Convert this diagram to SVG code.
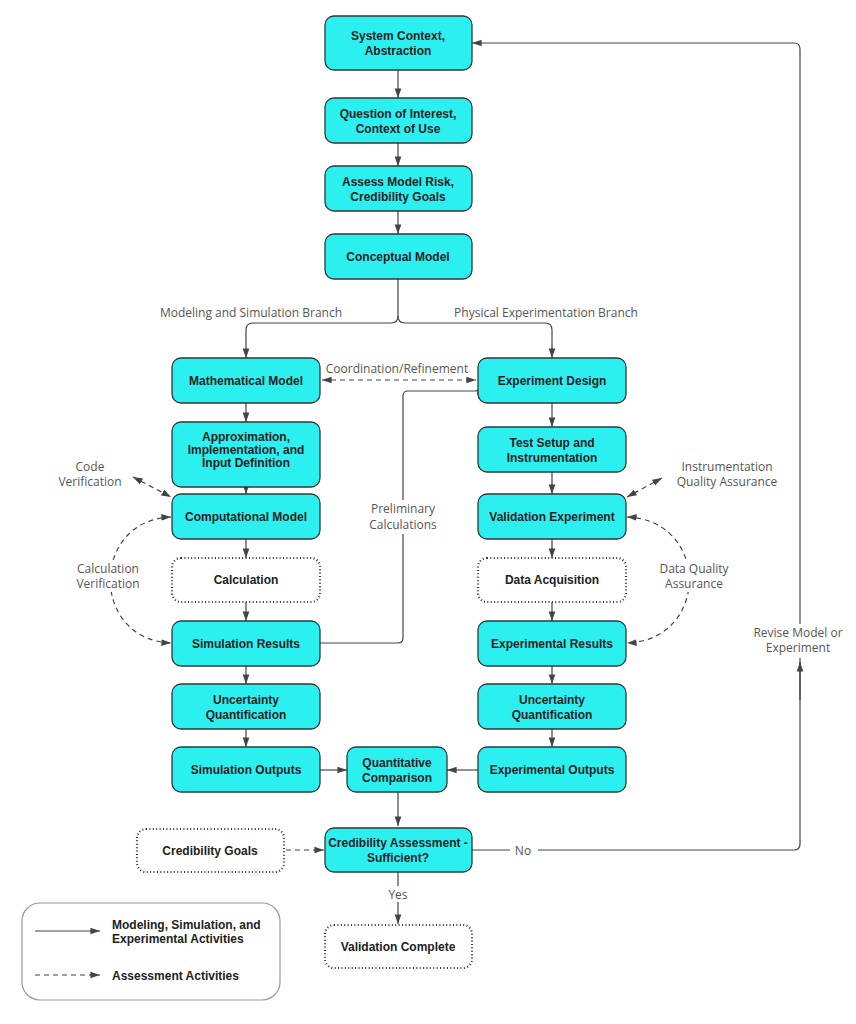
<svg xmlns="http://www.w3.org/2000/svg" width="856" height="1024" viewBox="0 0 856 1024">
<style>
.n{fill:#2cf0f0;stroke:#2a3a3a;stroke-width:1.3}
.d{fill:#fff;stroke:#333;stroke-width:2.2;stroke-dasharray:1 2.4}
.t{font-family:"Liberation Sans",Arial,sans-serif;font-weight:bold;font-size:12px;fill:#222;text-anchor:middle}
.l{font-family:"Open Sans","DejaVu Sans",sans-serif;font-size:12px;fill:#555;text-anchor:middle}
.c{fill:none;stroke:#444;stroke-width:1.2}
.s{marker-end:url(#a)}
.da{stroke-dasharray:5 4}
</style>
<defs>
<marker id="a" viewBox="0 0 10 10" refX="10" refY="5" markerWidth="8" markerHeight="8" orient="auto-start-reverse"><path d="M0,1.5 L10,5 L0,8.5 z" fill="#444"/></marker>
</defs>
<g id="connectors">
<path class="c s" d="M398,70 V98"/>
<path class="c s" d="M398,143 V166"/>
<path class="c s" d="M398,211 V234"/>
<path class="c" d="M398,279 V316 Q398,323 391,323 H253 Q246,323 246,330 V358" marker-end="url(#a)"/>
<path class="c" d="M398,316 Q398,323 405,323 H545 Q552,323 552,330 V358" marker-end="url(#a)"/>
<text class="l" x="251" y="317">Modeling and Simulation Branch</text>
<text class="l" x="546" y="317">Physical Experimentation Branch</text>
<path class="c s" d="M246,403 V422"/>
<path class="c s" d="M246,487 V494"/>
<path class="c s" d="M246,539 V558"/>
<path class="c s" d="M246,602 V621"/>
<path class="c s" d="M246,666 V684"/>
<path class="c s" d="M246,729 V747"/>
<path class="c s" d="M552,403 V427"/>
<path class="c s" d="M552,472 V494"/>
<path class="c s" d="M552,539 V558"/>
<path class="c s" d="M552,602 V621"/>
<path class="c s" d="M552,666 V684"/>
<path class="c s" d="M552,729 V747"/>
<path class="c s" d="M320,770 H347"/>
<path class="c s" d="M478,770 H447"/>
<path class="c s" d="M398,792 V826"/>
<path class="c s" d="M398,872 V924"/>
<rect x="384" y="886" width="28" height="16" fill="#fff"/>
<text class="l" x="398" y="899">Yes</text>
<path class="c" d="M472,850 H794 Q800,850 800,844 V49 Q800,43 794,43 H472" marker-end="url(#a)"/>
<path class="c s" d="M800,700 V662"/>
<rect x="510" y="842" width="28" height="16" fill="#fff"/>
<text class="l" x="523" y="855">No</text>
<rect x="752" y="624" width="96" height="34" fill="#fff"/>
<text class="l" x="798" y="637">Revise Model or</text>
<text class="l" x="798" y="652">Experiment</text>
<path class="c" d="M320,643 H398 Q403,643 403,638 V396 Q403,391 408,391 H475 Q480,391 480,386 V380"/>
<path class="c s" d="M480,392 V385"/>
<rect x="364" y="500" width="78" height="34" fill="#fff"/>
<text class="l" x="403" y="513">Preliminary</text>
<text class="l" x="403" y="529">Calculations</text>
<path class="c da" d="M322,380 H476" marker-start="url(#a)" marker-end="url(#a)"/>
<rect x="326" y="361" width="144" height="16" fill="#fff"/>
<text class="l" x="397" y="373">Coordination/Refinement</text>
<path class="c da" d="M133,477 L171,497" marker-start="url(#a)" marker-end="url(#a)"/>
<text class="l" x="90" y="471">Code</text>
<text class="l" x="90" y="486">Verification</text>
<path class="c da" d="M171,517 C90,520 90,640 171,643" marker-start="url(#a)" marker-end="url(#a)"/>
<rect x="70" y="560" width="76" height="32" fill="#fff"/>
<text class="l" x="108" y="573">Calculation</text>
<text class="l" x="108" y="588">Verification</text>
<path class="c da" d="M662,478 L627,497" marker-start="url(#a)" marker-end="url(#a)"/>
<text class="l" x="727" y="471">Instrumentation</text>
<text class="l" x="727" y="486">Quality Assurance</text>
<path class="c da" d="M627,517 C710,520 710,640 627,643" marker-start="url(#a)" marker-end="url(#a)"/>
<rect x="660" y="560" width="76" height="32" fill="#fff"/>
<text class="l" x="694" y="573">Data Quality</text>
<text class="l" x="694" y="588">Assurance</text>
<path class="c da s" d="M286,850 H324"/>
</g>
<g id="n1"><rect class="n" x="325" y="16" width="147" height="54" rx="9"/><text class="t" x="398" y="40">System Context,</text><text class="t" x="398" y="55">Abstraction</text></g>
<g id="n2"><rect class="n" x="325" y="98" width="147" height="45" rx="9"/><text class="t" x="398" y="118">Question of Interest,</text><text class="t" x="398" y="133">Context of Use</text></g>
<g id="n3"><rect class="n" x="325" y="166" width="147" height="45" rx="9"/><text class="t" x="398" y="186">Assess Model Risk,</text><text class="t" x="398" y="201">Credibility Goals</text></g>
<g id="n4"><rect class="n" x="325" y="234" width="147" height="45" rx="9"/><text class="t" x="398" y="261">Conceptual Model</text></g>
<g id="n5"><rect class="n" x="172" y="358" width="148" height="45" rx="9"/><text class="t" x="246" y="385">Mathematical Model</text></g>
<g id="n6"><rect class="n" x="172" y="422" width="148" height="65" rx="9"/><text class="t" x="246" y="441">Approximation,</text><text class="t" x="246" y="454">Implementation, and</text><text class="t" x="246" y="467">Input Definition</text></g>
<g id="n7"><rect class="n" x="172" y="494" width="148" height="45" rx="9"/><text class="t" x="246" y="521">Computational Model</text></g>
<g id="n8"><rect class="d" x="172" y="558" width="148" height="44" rx="9"/><text class="t" x="246" y="584">Calculation</text></g>
<g id="n9"><rect class="n" x="172" y="621" width="148" height="45" rx="9"/><text class="t" x="246" y="648">Simulation Results</text></g>
<g id="n10"><rect class="n" x="172" y="684" width="148" height="45" rx="9"/><text class="t" x="246" y="704">Uncertainty</text><text class="t" x="246" y="719">Quantification</text></g>
<g id="n11"><rect class="n" x="172" y="747" width="148" height="45" rx="9"/><text class="t" x="246" y="774">Simulation Outputs</text></g>
<g id="n12"><rect class="n" x="478" y="358" width="148" height="45" rx="9"/><text class="t" x="552" y="385">Experiment Design</text></g>
<g id="n13"><rect class="n" x="478" y="427" width="148" height="45" rx="9"/><text class="t" x="552" y="447">Test Setup and</text><text class="t" x="552" y="462">Instrumentation</text></g>
<g id="n14"><rect class="n" x="478" y="494" width="148" height="45" rx="9"/><text class="t" x="552" y="521">Validation Experiment</text></g>
<g id="n15"><rect class="d" x="478" y="558" width="148" height="44" rx="9"/><text class="t" x="552" y="584">Data Acquisition</text></g>
<g id="n16"><rect class="n" x="478" y="621" width="148" height="45" rx="9"/><text class="t" x="552" y="648">Experimental Results</text></g>
<g id="n17"><rect class="n" x="478" y="684" width="148" height="45" rx="9"/><text class="t" x="552" y="704">Uncertainty</text><text class="t" x="552" y="719">Quantification</text></g>
<g id="n18"><rect class="n" x="478" y="747" width="148" height="45" rx="9"/><text class="t" x="552" y="774">Experimental Outputs</text></g>
<g id="n19"><rect class="n" x="347" y="747" width="100" height="45" rx="9"/><text class="t" x="397" y="767">Quantitative</text><text class="t" x="397" y="782">Comparison</text></g>
<g id="n20"><rect class="n" x="325" y="828" width="147" height="44" rx="9"/><text class="t" x="398" y="847">Credibility Assessment -</text><text class="t" x="398" y="862">Sufficient?</text></g>
<g id="n21"><rect class="d" x="137" y="829" width="147" height="43" rx="9"/><text class="t" x="210" y="855">Credibility Goals</text></g>
<g id="n22"><rect class="d" x="325" y="925" width="147" height="43" rx="9"/><text class="t" x="398" y="951">Validation Complete</text></g>
<g id="legend">
<rect x="22" y="903" width="258" height="97" rx="18" fill="#fff" stroke="#999" stroke-width="1.2"/>
<path class="c s" d="M35,931 H100"/>
<path class="c da s" d="M35,975 H100"/>
<text class="t" x="112" y="929" text-anchor="start" style="text-anchor:start">Modeling, Simulation, and</text>
<text class="t" x="112" y="943" style="text-anchor:start">Experimental Activities</text>
<text class="t" x="112" y="980" style="text-anchor:start">Assessment Activities</text>
</g>
</svg>
